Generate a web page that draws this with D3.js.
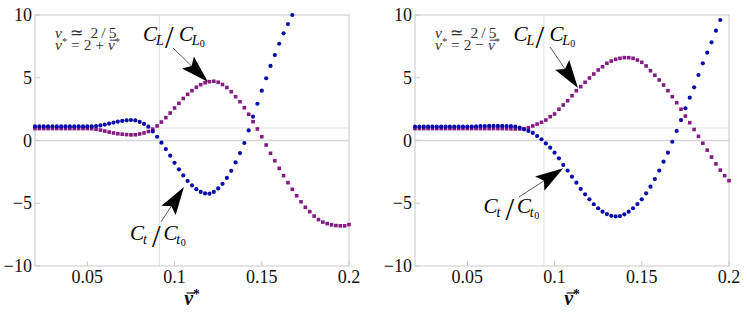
<!DOCTYPE html>
<html>
<head>
<meta charset="utf-8">
<script src="https://cdn.jsdelivr.net/npm/d3@7"></script>
</head>
<body style="margin:0">
<svg width="747" height="316"></svg>
<script>
// sample positions (nu-bar*)
var nuBar = [0.02,0.0225,0.025,0.0275,0.03,0.0325,0.035,0.0375,0.04,0.0425,
  0.045,0.0475,0.05,0.0525,0.055,0.0575,0.06,0.0625,0.065,0.0675,
  0.07,0.0725,0.075,0.0775,0.08,0.0825,0.085,0.0875,0.09,0.0925,
  0.095,0.0975,0.1,0.1025,0.105,0.1075,0.11,0.1125,0.115,0.1175,
  0.12,0.1225,0.125,0.1275,0.13,0.1325,0.135,0.1375,0.14,0.1425,
  0.145,0.1475,0.15,0.1525,0.155,0.1575,0.16,0.1625,0.165,0.1675,
  0.17,0.1725,0.175,0.1775,0.18,0.1825,0.185,0.1875,0.19,0.1925,
  0.195,0.1975,0.2];

// left panel, nu* = 2 + nu-bar*
var leftCL = [0.95,0.95,0.95,0.95,0.95,0.95,0.95,0.95,0.95,0.95,
  0.95,0.95,0.95,0.94,0.9,0.83,0.75,0.67,0.6,0.54,
  0.5,0.47,0.45,0.46,0.52,0.6,0.72,0.9,1.16,1.47,
  1.82,2.19,2.59,2.96,3.35,3.68,3.97,4.24,4.45,4.6,
  4.69,4.72,4.64,4.46,4.22,3.89,3.49,3.09,2.61,2.09,
  1.5,0.92,0.3,-0.36,-1.02,-1.61,-2.22,-2.8,-3.36,-3.89,
  -4.4,-4.88,-5.32,-5.67,-6.02,-6.3,-6.5,-6.62,-6.72,-6.78,
  -6.8,-6.8,-6.7];
var leftCt = [1.12,1.12,1.12,1.12,1.12,1.12,1.12,1.12,1.12,1.12,
  1.12,1.12,1.12,1.13,1.15,1.2,1.27,1.35,1.43,1.5,
  1.56,1.61,1.63,1.6,1.48,1.32,1.1,0.72,0.3,-0.17,
  -0.68,-1.21,-1.78,-2.3,-2.78,-3.22,-3.58,-3.88,-4.1,-4.22,
  -4.24,-4.1,-3.82,-3.45,-2.98,-2.42,-1.75,-1.0,-0.2,0.8,
  1.9,2.93,3.97,4.96,5.94,6.81,7.71,8.54,9.28,10.0,
  null,null,null,null,null,null,null,null,null,null,
  null,null,null];

// right panel, nu* = 2 - nu-bar*
var rightCL = [0.95,0.95,0.95,0.95,0.95,0.95,0.95,0.95,0.95,0.95,
  0.95,0.95,0.95,0.95,0.95,0.95,0.95,0.95,0.95,0.95,
  0.95,0.94,0.93,0.92,0.92,0.94,1.02,1.16,1.31,1.45,
  1.63,1.9,2.11,2.49,2.83,3.17,3.57,3.97,4.29,4.64,
  4.98,5.3,5.62,5.88,6.15,6.33,6.47,6.55,6.6,6.6,
  6.55,6.41,6.23,5.94,5.56,5.2,4.82,4.42,3.97,3.49,
  3.01,2.49,1.95,1.42,0.88,0.33,-0.22,-0.77,-1.32,-1.86,
  -2.36,-2.8,-3.2];
var rightCt = [1.1,1.1,1.1,1.1,1.1,1.1,1.1,1.1,1.1,1.1,
  1.1,1.1,1.1,1.1,1.12,1.15,1.15,1.16,1.16,1.16,
  1.16,1.15,1.14,1.1,1.02,0.89,0.76,0.6,0.36,0.1,
  -0.23,-0.57,-0.97,-1.42,-1.95,-2.4,-2.88,-3.36,-3.86,-4.29,
  -4.69,-5.08,-5.4,-5.67,-5.86,-6.0,-6.05,-6.02,-5.88,-5.67,
  -5.4,-5.06,-4.69,-4.21,-3.68,-3.07,-2.4,-1.69,-0.97,-0.1,
  0.76,1.63,2.57,3.41,4.24,5.22,6.15,7.0,7.82,8.75,
  9.6,null,null];

var xTicks = [0.05,0.1,0.15,0.2];
var xTickLabels = ['0.05','0.1','0.15','0.2'];
var yTicks = [-10,-5,0,5,10];
var yTickLabels = ['\u221210','\u22125','0','5','10'];

var BLUE = '#0b0bab', PURPLE = '#851a85', FRAME = '#c8c8c8';
var SERIF = '"Liberation Serif"';
var W = 314, H = 251, TOP = 15;
var SP = '\u2002';

var svg = d3.select('svg');

function txt(g) {
  return g.append('text').style('font-family', SERIF);
}

// text built from pieces; sup = superscript, bar = overbar on that piece
function rich(g, x, y, size, pieces, fill, middle) {
  var t = txt(g).attr('x',x).attr('y',y).attr('font-size',size).attr('fill',fill);
  var shift = 0, idx = 0, bars = [];
  pieces.forEach(function(p){
    var s = p.sup ? -size*0.3 : 0;
    var ts = t.append('tspan').style('font-family', SERIF).text(p.t).attr('dy', s - shift);
    shift = s;
    if (p.sup) ts.attr('font-size', size*0.68);
    if (p.it) ts.attr('font-style','italic');
    if (p.bold) ts.attr('font-weight','bold');
    if (p.bar) bars.push(idx);
    idx += p.t.length;
  });
  if (middle) t.attr('x', x - t.node().getComputedTextLength()/2);
  bars.forEach(function(k){
    var a = t.node().getStartPositionOfChar(k), b = t.node().getEndPositionOfChar(k);
    g.append('line').attr('x1',a.x+size*0.12).attr('x2',b.x+size*0.1)
      .attr('y1',y-size*0.6).attr('y2',y-size*0.6)
      .attr('stroke',fill).attr('stroke-width',Math.max(0.8,size*0.06));
  });
  return t;
}

function ratio(g, x, y, sub) {
  var c2 = sub == 'L' ? 36 : 33.5;
  var z = sub == 'L' ? 8 : 4.5;
  txt(g).attr('x',x).attr('y',y).attr('font-size',21).attr('font-style','italic').text('C');
  txt(g).attr('x',x+13).attr('y',y+3.5).attr('font-size',14).attr('font-style','italic').text(sub);
  txt(g).attr('x',x+22).attr('y',y+6.5).attr('font-size',31).text('/');
  txt(g).attr('x',x+c2).attr('y',y).attr('font-size',21).attr('font-style','italic').text('C');
  txt(g).attr('x',x+c2+12.8).attr('y',y+3.5).attr('font-size',14).attr('font-style','italic').text(sub);
  txt(g).attr('x',x+c2+12.8+z).attr('y',y+5.5).attr('font-size',10).text('0');
}

function arrow(g, x1, y1, x2, y2) {
  var len = 28, hw = 8.5;
  var dx = x2-x1, dy = y2-y1, d = Math.sqrt(dx*dx+dy*dy);
  var ux = dx/d, uy = dy/d;
  var bx = x2-ux*len, by = y2-uy*len;
  var nx = bx+ux*len*0.18, ny = by+uy*len*0.18;
  g.append('line').attr('x1',x1).attr('y1',y1).attr('x2',nx).attr('y2',ny)
    .attr('stroke','#333').attr('stroke-width',0.8);
  var pts = [[x2,y2],[bx-uy*hw,by+ux*hw],[nx,ny],[bx+uy*hw,by-ux*hw]];
  g.append('polygon').attr('points',pts.map(function(p){return p.join(',');}).join(' ')).attr('fill','#000');
}

function panel(left, cl, ct, gridX, sign, clLab, clArr, ctLab, ctArr, clipId) {
  var g = svg.append('g').attr('transform','translate('+left+','+TOP+')');
  var x = d3.scaleLinear().domain([0.02,0.2]).range([0,W]);
  var y = d3.scaleLinear().domain([-10,10]).range([H,0]);

  // grid
  g.append('line').attr('x1',x(gridX)).attr('x2',x(gridX)).attr('y1',0).attr('y2',H).attr('stroke','#e2e2e2');
  g.append('line').attr('x1',0).attr('x2',W).attr('y1',y(1)).attr('y2',y(1)).attr('stroke','#e2e2e2');
  g.append('line').attr('x1',0).attr('x2',W).attr('y1',y(0)).attr('y2',y(0)).attr('stroke','#d6d6d6').attr('stroke-width',1.6);

  // frame + ticks
  g.append('rect').attr('x',0).attr('y',0).attr('width',W).attr('height',H).attr('fill','none').attr('stroke',FRAME);
  g.selectAll('.xt').data(xTicks).enter().append('line')
    .attr('x1',function(d){return x(d);}).attr('x2',function(d){return x(d);})
    .attr('y1',H).attr('y2',H-5).attr('stroke',FRAME);
  g.selectAll('.yt').data(yTicks).enter().append('line')
    .attr('x1',0).attr('x2',5)
    .attr('y1',function(d){return y(d);}).attr('y2',function(d){return y(d);}).attr('stroke',FRAME);

  g.selectAll('.xl').data(xTicks).enter().append('text').style('font-family',SERIF)
    .attr('x',function(d){return x(d);}).attr('y',H+17).attr('text-anchor','middle').attr('font-size',18).attr('fill','#111')
    .text(function(d,i){return xTickLabels[i];});
  g.selectAll('.yl').data(yTicks).enter().append('text').style('font-family',SERIF)
    .attr('x',-3).attr('y',function(d){return y(d)+6;}).attr('text-anchor','end').attr('font-size',18).attr('fill','#111')
    .text(function(d,i){return yTickLabels[i];});

  // axis label
  rich(g, W/2, H+39, 20, [{t:'\u03bd',it:true,bold:true,bar:true},{t:'*',sup:true,bold:true}], '#111', true);

  // note
  rich(g, 20, 23, 15.5, [{t:'\u03bd',it:true},{t:SP+'\u2243'+SP+'2\u2009/\u20095'}], '#333');
  rich(g, 20, 34.5, 15.5, [{t:'\u03bd',it:true},{t:'*',sup:true},{t:' = 2 '+sign+' '},{t:'\u03bd',it:true,bar:true},{t:'*',sup:true}], '#333');

  // data
  g.append('clipPath').attr('id',clipId).append('rect').attr('x',-3).attr('y',-3).attr('width',W+6).attr('height',H+6);
  var pg = g.append('g').attr('clip-path','url(#'+clipId+')');
  var clPts = nuBar.map(function(v,i){return {x:v,y:cl[i]};}).filter(function(d){return d.y!=null;});
  var ctPts = nuBar.map(function(v,i){return {x:v,y:ct[i]};}).filter(function(d){return d.y!=null;});
  pg.selectAll('.cl').data(clPts).enter().append('rect')
    .attr('x',function(d){return x(d.x)-1.8;}).attr('y',function(d){return y(d.y)-1.8;})
    .attr('width',3.6).attr('height',3.6).attr('fill',PURPLE);
  pg.selectAll('.ct').data(ctPts).enter().append('circle')
    .attr('cx',function(d){return x(d.x);}).attr('cy',function(d){return y(d.y);})
    .attr('r',2.1).attr('fill',BLUE);

  // annotations
  ratio(g, x(clLab[0]), y(clLab[1]), 'L');
  arrow(g, x(clArr[0]), y(clArr[1]), x(clArr[2]), y(clArr[3]));
  ratio(g, x(ctLab[0]), y(ctLab[1]), 't');
  arrow(g, x(ctArr[0]), y(ctArr[1]), x(ctArr[2]), y(ctArr[3]));
}

panel(35, leftCL, leftCt, 0.0914, '+',
  [0.0819,7.89], [0.0991,7.37,0.1192,4.66],
  [0.0745,-7.93], [0.0922,-6.49,0.1054,-3.71], 'clipL');
panel(415, rightCL, rightCt, 0.0939, '\u2212',
  [0.0764,7.89], [0.0974,7.45,0.1134,4.18],
  [0.0592,-5.78], [0.0796,-4.5,0.105,-2.22], 'clipR');
</script>
</body>
</html>
